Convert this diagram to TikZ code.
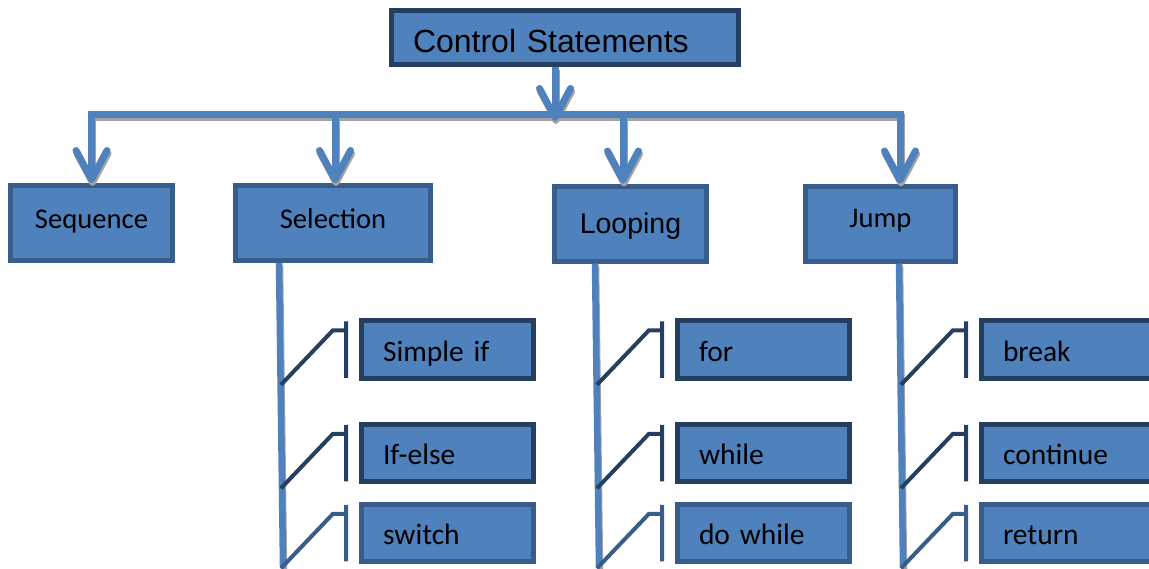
\documentclass[tikz,border=0pt]{standalone}
\usepackage{fontspec}
\newfontfamily\calfont{Carlito}
\newfontfamily\arifont{Liberation Sans}
\usetikzlibrary{arrows.meta,calc}

\definecolor{boxblue}{HTML}{4F81BD}
\definecolor{edgeblue}{HTML}{385D8A}
\definecolor{darkedge}{HTML}{243F60}
\definecolor{shadowgray}{HTML}{A3A3A3}

\tikzset{
  barb/.tip={Straight Barb[length=29pt,width=31pt,round]},
  box/.style={draw=edgeblue, fill=boxblue, line width=5pt, inner ysep=0pt, text depth=0pt},
  topbox/.style={box, minimum width=#1, minimum height=75pt, inner xsep=0pt,
    text height=10pt, font=\calfont\fontsize{28.6}{30}\selectfont},
  subbox/.style={box, text width=129pt, inner xsep=21.5pt, minimum height=57.5pt,
    align=left, text height=23.5pt, font=\calfont\fontsize{29.5}{30}\selectfont},
  conn/.style={draw=boxblue, line width=7pt, -barb},
  trunk/.style={draw=boxblue, line width=6.5pt},
  shade/.style={draw=shadowgray, transform canvas={shift={(1pt,-3pt)}}},
  main/.style={},
  elbow/.style={draw=#1, line width=4pt}
}

\begin{document}
\begin{tikzpicture}[x=1pt,y=-1pt]
    \useasboundingbox (0,0) rectangle (1149,568);
    \clip (0,0) rectangle (1149,568);

    % Root box
    \node[box, draw=darkedge, text width=304pt, inner xsep=21.5pt, minimum height=54pt,
      align=left, text height=29pt, font=\arifont\fontsize{32}{34}\selectfont]
      (cs) at (565,37.5) {Control Statements};

    % Second level boxes
    \node[topbox=162pt] (seq) at (91.5,223) {Sequence};
    \node[topbox=195pt] (sel) at (333,223) {Selection};
    \node[topbox=152pt, text height=19pt, font=\arifont\fontsize{28.5}{30}\selectfont]
      (loop) at (630.5,223.5) {Looping};
    \node[topbox=150pt, text height=7pt] (jump) at (880.5,223.5) {Jump};

    % Bus with its arrows, shadow first
    \coordinate (hub) at (555,121);
    \coordinate (tsel) at (335,114);
    \coordinate (tloop) at (623,114);
    \coordinate (tjump) at (900,114);
    \foreach \lay in {shade,main} {
        \draw[conn, \lay, barb-barb] (seq.north) |- (tjump) -- (tjump |- jump.north);
        \foreach \t/\b in {tsel/sel, tloop/loop}
            \draw[conn, \lay] (\t) -- (\t |- \b.north);
        \draw[conn, \lay] ([xshift=-10pt]cs.south) -- (hub);
    }

    % Trunks, sub boxes and their elbows
    \foreach \col/\x/\tx/\la/\lb/\lc in {sel/447.5/279/Simple if/If-else/switch,
        loop/763.5/595/for/while/do while, jump/1067.5/899/break/continue/return} {
        \draw[trunk, shade] (\col.south -| \tx,0) -- (\tx+4,566);
        \draw[trunk] (\col.south -| \tx,0) -- (\tx+4,566);
        \node[subbox, draw=darkedge] (\col1) at (\x,349.5) {\la};
        \node[subbox, draw=darkedge] (\col2) at (\x,453) {\lb};
        \node[subbox] (\col3) at (\x,533) {\lc};
        \foreach \r/\c in {1/darkedge, 2/darkedge, 3/edgeblue}
            \draw[elbow=\c] ($(\col\r.south west)+(-78,4)$) -- ($(\col\r.north west)+(-26,12)$) -- ++(13,0)
                ($(\col\r.north west)+(-13,3)$) -- ($(\col\r.south west)+(-13,-3)$);
    }
\end{tikzpicture}
\end{document}
